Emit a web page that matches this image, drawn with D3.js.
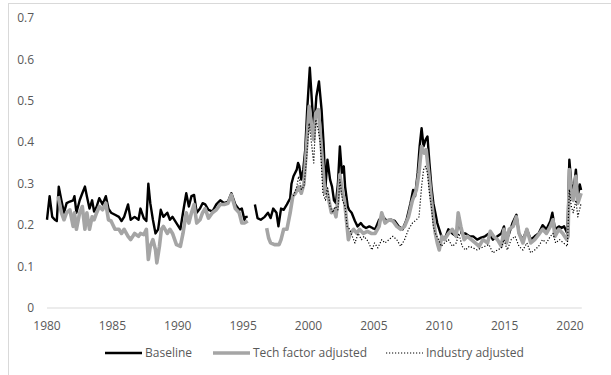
<!DOCTYPE html>
<html>
<head>
<meta charset="utf-8">
<script src="https://cdn.jsdelivr.net/npm/d3@7"></script>
<style>
  body { margin: 0; background: #fff; }
  svg text { font-family: "Liberation Sans Narrow", "Open Sans", sans-serif; fill: #595959; font-size: 12px; }
</style>
</head>
<body>
<svg id="chart" width="611" height="375"></svg>
<script>
// [year, value]; null marks a break in the line
const baseline = [
  [1980.0,0.213],[1980.2,0.27],[1980.4,0.22],[1980.6,0.213],[1980.75,0.21],[1980.9,0.293],
  [1981.1,0.26],[1981.3,0.23],[1981.5,0.253],[1981.75,0.257],[1982.0,0.26],[1982.1,0.27],
  [1982.25,0.23],[1982.5,0.26],[1982.7,0.277],[1982.9,0.293],[1983.05,0.27],[1983.25,0.24],
  [1983.45,0.26],[1983.6,0.233],[1983.8,0.245],[1984.0,0.265],[1984.25,0.25],[1984.5,0.27],
  [1984.7,0.24],[1984.9,0.23],[1985.2,0.225],[1985.5,0.22],[1985.7,0.21],[1985.9,0.22],
  [1986.2,0.25],[1986.4,0.213],[1986.7,0.22],[1987.0,0.213],[1987.15,0.24],[1987.4,0.217],
  [1987.6,0.21],[1987.75,0.30],[1987.9,0.253],[1988.1,0.213],[1988.3,0.18],[1988.5,0.19],
  [1988.7,0.237],[1988.9,0.22],[1989.2,0.23],[1989.4,0.213],[1989.6,0.22],[1989.9,0.205],
  [1990.2,0.19],[1990.4,0.23],[1990.65,0.277],[1990.85,0.245],[1991.05,0.27],[1991.25,0.273],
  [1991.45,0.23],[1991.7,0.24],[1991.9,0.253],[1992.1,0.25],[1992.35,0.237],[1992.65,0.233],
  [1992.95,0.25],[1993.25,0.26],[1993.55,0.253],[1993.85,0.257],[1994.1,0.277],[1994.4,0.25],
  [1994.7,0.237],[1994.9,0.24],[1995.1,0.213],[1995.2,0.22],[1995.35,0.22],
  null,
  [1995.9,0.25],[1996.1,0.217],[1996.35,0.213],[1996.65,0.22],[1996.9,0.23],[1997.1,0.217],
  [1997.3,0.24],[1997.55,0.23],[1997.7,0.197],[1997.9,0.24],[1998.1,0.237],[1998.35,0.25],
  [1998.6,0.265],[1998.7,0.30],[1998.85,0.318],[1999.1,0.334],[1999.2,0.35],[1999.3,0.342],
  [1999.45,0.31],[1999.6,0.334],[1999.75,0.382],[1999.9,0.479],[2000.1,0.58],[2000.3,0.479],
  [2000.45,0.438],[2000.6,0.51],[2000.8,0.547],[2001.0,0.479],[2001.15,0.398],[2001.3,0.293],
  [2001.45,0.358],[2001.65,0.31],[2001.8,0.293],[2001.95,0.26],[2002.1,0.253],[2002.25,0.30],
  [2002.4,0.39],[2002.55,0.326],[2002.7,0.342],[2002.8,0.293],[2003.0,0.245],[2003.1,0.237],
  [2003.3,0.23],[2003.55,0.21],[2003.75,0.197],[2004.0,0.205],[2004.2,0.197],[2004.4,0.193],
  [2004.65,0.197],[2004.9,0.193],[2005.1,0.19],[2005.4,0.213],[2005.7,0.22],[2006.0,0.21],
  [2006.3,0.213],[2006.6,0.21],[2006.9,0.197],[2007.2,0.19],[2007.5,0.213],[2007.8,0.253],
  [2008.0,0.285],[2008.15,0.27],[2008.35,0.326],[2008.5,0.39],[2008.65,0.434],[2008.8,0.39],
  [2008.95,0.406],[2009.1,0.414],[2009.25,0.35],[2009.4,0.293],[2009.55,0.253],[2009.7,0.23],
  [2009.85,0.205],[2010.0,0.19],[2010.2,0.17],[2010.4,0.165],[2010.7,0.19],[2011.0,0.18],
  [2011.3,0.173],[2011.5,0.22],[2011.7,0.18],[2012.0,0.18],[2012.3,0.173],[2012.6,0.173],
  [2012.9,0.165],[2013.2,0.17],[2013.5,0.173],[2013.8,0.18],[2014.1,0.165],[2014.45,0.173],
  [2014.75,0.18],[2014.95,0.197],[2015.15,0.165],[2015.35,0.18],[2015.6,0.205],[2015.9,0.225],
  [2016.1,0.18],[2016.4,0.165],[2016.7,0.19],[2017.0,0.165],[2017.3,0.173],[2017.6,0.18],
  [2017.9,0.20],[2018.2,0.19],[2018.5,0.21],[2018.65,0.23],[2018.85,0.19],[2019.15,0.197],
  [2019.35,0.193],[2019.55,0.197],[2019.8,0.18],[2019.95,0.358],[2020.1,0.30],[2020.25,0.277],
  [2020.45,0.334],[2020.6,0.27],[2020.75,0.298],[2020.85,0.285]
];

const techAdjusted = [
  [1980.85,0.27],[1981.1,0.23],[1981.3,0.213],[1981.5,0.23],[1981.75,0.237],[1982.0,0.197],
  [1982.1,0.23],[1982.25,0.19],[1982.5,0.23],[1982.7,0.245],[1982.9,0.19],[1983.05,0.23],
  [1983.25,0.19],[1983.45,0.22],[1983.6,0.213],[1983.8,0.23],[1984.0,0.245],[1984.25,0.237],
  [1984.5,0.253],[1984.7,0.213],[1984.9,0.21],[1985.2,0.19],[1985.5,0.19],[1985.7,0.18],
  [1985.9,0.19],[1986.2,0.173],[1986.4,0.165],[1986.7,0.18],[1987.0,0.173],[1987.15,0.18],
  [1987.4,0.177],[1987.6,0.19],[1987.75,0.117],[1987.9,0.149],[1988.1,0.165],[1988.3,0.14],
  [1988.4,0.109],[1988.6,0.149],[1988.75,0.19],[1988.9,0.197],[1989.2,0.18],[1989.4,0.19],
  [1989.6,0.18],[1989.9,0.153],[1990.2,0.149],[1990.4,0.18],[1990.65,0.23],[1990.85,0.205],
  [1991.05,0.23],[1991.25,0.25],[1991.45,0.205],[1991.7,0.213],[1991.9,0.23],[1992.1,0.24],
  [1992.35,0.217],[1992.65,0.23],[1992.95,0.237],[1993.25,0.25],[1993.55,0.25],[1993.85,0.253],
  [1994.1,0.273],[1994.4,0.24],[1994.7,0.23],[1994.9,0.205],[1995.1,0.205],[1995.35,0.21],
  null,
  [1996.8,0.193],[1996.95,0.169],[1997.1,0.157],[1997.4,0.153],[1997.75,0.153],[1997.9,0.165],
  [1998.1,0.19],[1998.35,0.19],[1998.6,0.23],[1998.8,0.27],[1999.0,0.277],[1999.25,0.293],
  [1999.45,0.277],[1999.65,0.30],[1999.85,0.39],[2000.05,0.487],[2000.2,0.446],[2000.4,0.406],
  [2000.55,0.47],[2000.75,0.479],[2000.9,0.422],[2001.1,0.342],[2001.25,0.277],[2001.4,0.285],
  [2001.6,0.253],[2001.75,0.23],[2001.95,0.237],[2002.1,0.22],[2002.25,0.26],[2002.4,0.322],
  [2002.6,0.277],[2002.75,0.26],[2002.9,0.213],[2003.05,0.165],[2003.2,0.18],[2003.45,0.19],
  [2003.7,0.18],[2003.9,0.19],[2004.2,0.18],[2004.5,0.185],[2004.8,0.18],[2005.1,0.18],
  [2005.4,0.197],[2005.6,0.23],[2005.85,0.205],[2006.15,0.213],[2006.45,0.21],[2006.75,0.197],
  [2007.05,0.19],[2007.35,0.197],[2007.65,0.22],[2007.95,0.26],[2008.25,0.285],[2008.45,0.326],
  [2008.65,0.39],[2008.85,0.374],[2009.0,0.382],[2009.25,0.31],[2009.4,0.26],[2009.55,0.22],
  [2009.7,0.18],[2009.85,0.157],[2010.0,0.14],[2010.2,0.173],[2010.4,0.165],[2010.7,0.18],
  [2011.0,0.19],[2011.3,0.173],[2011.45,0.23],[2011.65,0.197],[2011.9,0.165],[2012.15,0.173],
  [2012.45,0.165],[2012.75,0.157],[2013.05,0.149],[2013.35,0.165],[2013.7,0.157],[2013.9,0.185],
  [2014.15,0.173],[2014.45,0.165],[2014.75,0.149],[2014.95,0.19],[2015.15,0.157],[2015.35,0.19],
  [2015.65,0.197],[2015.9,0.22],[2016.1,0.18],[2016.4,0.157],[2016.7,0.19],[2017.0,0.157],
  [2017.3,0.165],[2017.6,0.177],[2017.9,0.19],[2018.2,0.18],[2018.5,0.197],[2018.7,0.213],
  [2018.85,0.173],[2019.15,0.19],[2019.45,0.18],[2019.75,0.165],[2019.85,0.173],[2019.95,0.334],
  [2020.1,0.27],[2020.25,0.26],[2020.45,0.318],[2020.6,0.253],[2020.85,0.277]
];

const industryAdjusted = [
  [1998.85,0.27],[1999.1,0.293],[1999.25,0.318],[1999.45,0.286],[1999.65,0.293],[1999.85,0.358],
  [2000.05,0.446],[2000.2,0.406],[2000.4,0.35],[2000.55,0.455],[2000.75,0.43],[2000.9,0.398],
  [2001.1,0.277],[2001.3,0.26],[2001.45,0.293],[2001.65,0.245],[2001.85,0.23],[2002.05,0.245],
  [2002.25,0.237],[2002.4,0.31],[2002.6,0.26],[2002.8,0.245],[2002.95,0.197],[2003.15,0.19],
  [2003.35,0.173],[2003.55,0.157],[2003.8,0.18],[2004.05,0.165],[2004.25,0.173],[2004.55,0.161],
  [2004.85,0.14],[2005.05,0.157],[2005.3,0.145],[2005.6,0.165],[2005.85,0.157],[2006.15,0.165],
  [2006.45,0.173],[2006.75,0.165],[2007.05,0.149],[2007.35,0.165],[2007.65,0.19],[2007.95,0.205],
  [2008.25,0.213],[2008.45,0.22],[2008.65,0.293],[2008.8,0.334],[2008.95,0.342],[2009.1,0.326],
  [2009.25,0.277],[2009.4,0.245],[2009.55,0.197],[2009.7,0.18],[2009.95,0.165],[2010.15,0.149],
  [2010.4,0.157],[2010.7,0.165],[2011.0,0.149],[2011.3,0.157],[2011.5,0.18],[2011.75,0.149],
  [2012.0,0.14],[2012.3,0.149],[2012.6,0.145],[2012.9,0.14],[2013.2,0.145],[2013.5,0.149],
  [2013.8,0.153],[2014.1,0.133],[2014.45,0.14],[2014.75,0.145],[2014.95,0.165],[2015.2,0.14],
  [2015.5,0.165],[2015.8,0.173],[2016.1,0.149],[2016.4,0.14],[2016.7,0.157],[2017.0,0.133],
  [2017.3,0.14],[2017.6,0.149],[2017.9,0.165],[2018.2,0.157],[2018.5,0.173],[2018.7,0.18],
  [2018.9,0.157],[2019.2,0.165],[2019.5,0.157],[2019.8,0.149],[2019.95,0.286],[2020.1,0.245],
  [2020.25,0.23],[2020.45,0.26],[2020.6,0.22],[2020.85,0.253]
];

const yTicks = [0, 0.1, 0.2, 0.3, 0.4, 0.5, 0.6, 0.7];
const xTicks = [1980, 1985, 1990, 1995, 2000, 2005, 2010, 2015, 2020];
const seriesNames = ['Baseline', 'Tech factor adjusted', 'Industry adjusted'];

const svg = d3.select('#chart');

// outer chart frame
svg.append('rect')
  .attr('x', 8.5).attr('y', 3.5)
  .attr('width', 640).attr('height', 400)
  .attr('fill', 'none').attr('stroke', '#D9D9D9')

const x = d3.scaleLinear().domain([1980, 2020]).range([47, 570])
const y = d3.scaleLinear().domain([0, 0.7]).range([308, 18])

// y labels
svg.append('g')
  .selectAll('text')
  .data(yTicks)
  .enter()
  .append('text')
  .attr('x', 34)
  .attr('y', (d) => y(d))
  .attr('dy', '0.35em')
  .attr('text-anchor', 'end')
  .text((d) => d)

// x axis line
svg.append('line')
  .attr('x1', x(1980)).attr('x2', x(2020.9))
  .attr('y1', y(0)).attr('y2', y(0))
  .attr('stroke', '#D9D9D9').attr('stroke-width', 1.2)

svg.append('g')
  .selectAll('text')
  .data(xTicks)
  .enter()
  .append('text')
  .attr('x', (d) => x(d))
  .attr('y', 330)
  .attr('text-anchor', 'middle')
  .text((d) => d)

const line = d3.line()
  .defined((d) => d !== null)
  .x((d) => x(d[0]))
  .y((d) => y(d[1]))

const styles = [
  { stroke: '#000000', width: 2.4, dash: null },
  { stroke: '#A5A5A5', width: 3.6, dash: null },
  { stroke: '#000000', width: 1.2, dash: '1.2,1.8' },
]

const allSeries = [baseline, techAdjusted, industryAdjusted]

allSeries.forEach((data, i) => {
  svg.append('path')
    .datum(data)
    .attr('d', line)
    .attr('fill', 'none')
    .attr('stroke', styles[i].stroke)
    .attr('stroke-width', styles[i].width)
    .attr('stroke-dasharray', styles[i].dash)
    .attr('stroke-linejoin', 'round')
})

// legend
const legendX = [105, 213, 386]
const legend = svg.append('g')
seriesNames.forEach((name, i) => {
  legend.append('line')
    .attr('x1', legendX[i]).attr('x2', legendX[i] + 37)
    .attr('y1', 353).attr('y2', 353)
    .attr('stroke', styles[i].stroke)
    .attr('stroke-width', styles[i].width)
    .attr('stroke-dasharray', styles[i].dash)
  legend.append('text')
    .attr('x', legendX[i] + 40)
    .attr('y', 353)
    .attr('dy', '0.35em')
    .text(name)
})
</script>
</body>
</html>
